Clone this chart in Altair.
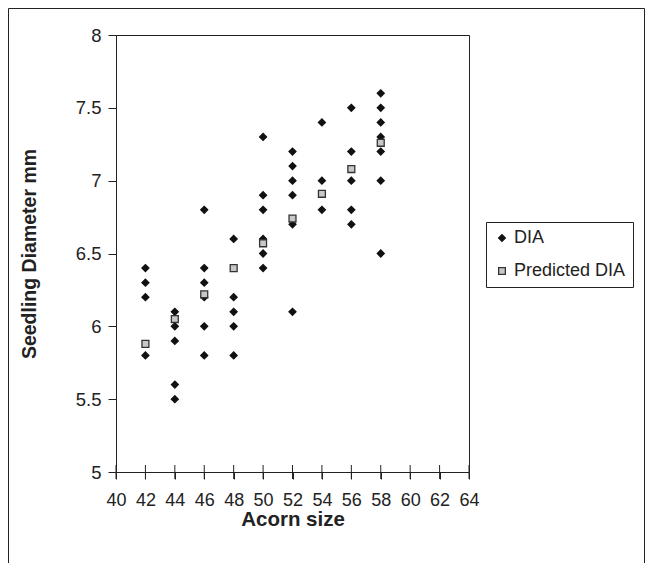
import altair as alt
import pandas as pd

# Observed seedling diameters (DIA)
dia_x = [42, 42, 42, 42,
         44, 44, 44, 44, 44,
         46, 46, 46, 46, 46, 46,
         48, 48, 48, 48, 48,
         50, 50, 50, 50, 50, 50,
         52, 52, 52, 52, 52, 52,
         54, 54, 54,
         56, 56, 56, 56, 56,
         58, 58, 58, 58, 58, 58, 58]
dia_y = [6.4, 6.3, 6.2, 5.8,
         6.1, 6.0, 5.9, 5.6, 5.5,
         6.8, 6.4, 6.3, 6.2, 6.0, 5.8,
         6.6, 6.2, 6.1, 6.0, 5.8,
         7.3, 6.9, 6.8, 6.6, 6.5, 6.4,
         7.2, 7.1, 7.0, 6.9, 6.7, 6.1,
         7.4, 7.0, 6.8,
         7.5, 7.2, 7.0, 6.8, 6.7,
         7.6, 7.5, 7.4, 7.3, 7.2, 7.0, 6.5]

# Predicted DIA
pred_x = [42, 44, 46, 48, 50, 52, 54, 56, 58]
pred_y = [5.88, 6.05, 6.22, 6.40, 6.57, 6.74, 6.91, 7.08, 7.26]

x_ticks = [40, 42, 44, 46, 48, 50, 52, 54, 56, 58, 60, 62, 64]
y_ticks = [5, 5.5, 6, 6.5, 7, 7.5, 8]

series_names = ["DIA", "Predicted DIA"]

df = pd.concat([
    pd.DataFrame({"x": dia_x, "y": dia_y, "series": series_names[0]}),
    pd.DataFrame({"x": pred_x, "y": pred_y, "series": series_names[1]}),
], ignore_index=True)

FONT = "Liberation Sans"
INK = "#222222"

xscale = alt.Scale(domain=[40, 64], nice=False, zero=False)
yscale = alt.Scale(domain=[5, 8], nice=False, zero=False)

x_axis = alt.Axis(values=x_ticks, title="Acorn size", grid=False,
                  tickSize=7, labelPadding=12, labelFontSize=18,
                  labelOverlap=False, labelFlush=False,
                  titleFontSize=20.5, titleFontWeight="bold",
                  titleY=53, titleBaseline="alphabetic")
y_axis = alt.Axis(values=y_ticks, title="Seedling Diameter mm", grid=False,
                  format="~g", tickSize=8, labelPadding=7, labelFontSize=18.5,
                  labelOverlap=False, labelFlush=False,
                  titleFontSize=19.5, titleFontWeight="bold",
                  titleX=-80.5, titleBaseline="alphabetic")

leg = dict(title=None, orient="none", legendX=370, legendY=187)

points = alt.Chart(df).mark_point(strokeWidth=1.3, opacity=1).encode(
    x=alt.X("x:Q", scale=xscale, axis=x_axis),
    y=alt.Y("y:Q", scale=yscale, axis=y_axis),
    shape=alt.Shape("series:N", scale=alt.Scale(domain=series_names, range=["diamond", "square"]),
                    legend=alt.Legend(**leg)),
    fill=alt.Fill("series:N", scale=alt.Scale(domain=series_names, range=["#111111", "#c8c8c8"]),
                  legend=alt.Legend(**leg)),
    stroke=alt.Stroke("series:N", scale=alt.Scale(domain=series_names, range=["#111111", "#333333"]),
                      legend=alt.Legend(**leg)),
    size=alt.value(48),
    order=alt.Order("series:N"),
)

ticks = alt.Chart(pd.DataFrame({"x": x_ticks})).mark_tick(
    orient="vertical", size=14, thickness=1, color=INK, opacity=1
).encode(
    x=alt.X("x:Q", scale=xscale, axis=x_axis),
    y=alt.Y("yy:Q", scale=yscale, axis=y_axis),
).transform_calculate(yy="5")

frame = alt.Chart(pd.DataFrame({"a": [0]})).mark_rect(
    filled=False, stroke=INK, strokeWidth=1
).encode(
    x=alt.value(-107.5), x2=alt.value(528.5),
    y=alt.value(-26.5), y2=alt.value(620),
)

chart = alt.layer(frame, ticks, points).properties(
    width=353, height=437,
    autosize=alt.AutoSizeParams(type="none"),
    padding={"left": 108, "top": 27, "right": 176, "bottom": 91},
).configure_view(
    stroke=INK, strokeWidth=1
).configure_axis(
    labelFont=FONT, titleFont=FONT, labelColor=INK, titleColor=INK,
    domainColor=INK, tickColor=INK, domainWidth=1, tickWidth=1,
    labelOverlap=False,
).configure_legend(
    labelFont=FONT, labelFontSize=18, labelColor=INK,
    strokeColor=INK, fillColor="white", padding=7, symbolOffset=0,
    symbolSize=45, symbolStrokeWidth=1.3, rowPadding=15, labelOffset=3,
)

chart.save("out.html", embed_options={"renderer": "svg", "actions": False})
